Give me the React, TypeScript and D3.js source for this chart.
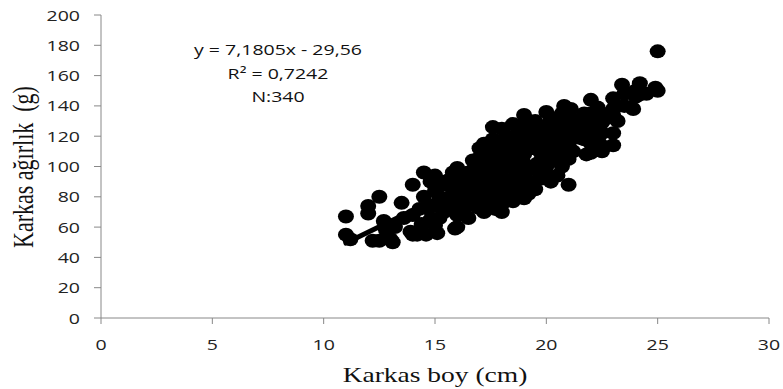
import React, {useEffect, useRef} from "react";
import * as d3 from "d3";

// carcass length (cm) vs carcass weight (g)
const samples: [number, number][] = [
  [11, 67], [11, 55], [11.2, 52], [12, 74], [12, 69], [12.5, 80], [12.2, 51], [12.5, 51],
  [12.7, 64], [13, 52], [13.1, 50], [12.8, 58], [13.5, 76], [13.2, 60], [13.6, 66], [14, 88],
  [14, 68], [14, 55], [13.9, 57], [14.2, 55], [14.3, 72], [14.5, 96], [14.6, 55], [14.8, 65],
  [14.5, 80], [14.4, 62], [14.7, 72], [14.8, 90],
  [15, 94], [15.1, 74], [15, 61], [15.1, 56], [15.2, 66], [15, 84], [15.3, 90], [15.5, 78],
  [15.5, 88], [15.6, 91], [15.4, 70], [15.8, 82], [15.9, 59], [16, 60], [16, 68], [16, 99],
  [16, 80], [16, 75], [16, 90], [16.2, 85], [16.3, 94], [16.5, 78], [16.6, 88], [16.7, 104],
  [16.5, 96], [16.9, 73], [16.8, 82], [15.2, 80], [15.7, 74], [15.8, 96], [16.3, 72],
  [16.5, 66], [16.8, 92], [16.8, 100],
  [17, 80], [17, 90], [17, 95], [17, 100], [17, 106], [17, 75], [17, 112], [17.2, 115],
  [17.2, 85], [17.3, 110], [17.5, 78], [17.5, 88], [17.5, 95], [17.5, 102], [17.5, 108],
  [17.6, 126], [17.6, 118], [17.8, 92], [17.8, 84], [18, 70], [18, 75], [18, 80], [18, 86],
  [18, 93], [18, 98], [18, 104], [18, 110], [18, 116], [18, 125], [18.2, 120], [18.3, 100],
  [18.5, 77], [18.5, 85], [18.5, 92], [18.5, 105], [18.5, 112], [18.5, 118], [18.5, 128],
  [18.8, 94], [18.8, 98], [17.2, 70], [17.3, 92], [17.7, 72], [17.7, 100], [17.8, 112],
  [18.2, 82], [18.2, 90], [18.3, 108], [18.7, 80], [18.7, 88], [18.7, 102], [18.7, 110],
  [18.7, 122],
  [19, 79], [19, 88], [19, 95], [19, 102], [19, 108], [19, 115], [19, 122], [19, 134],
  [19, 128], [19.3, 90], [19.3, 112], [19.5, 85], [19.5, 100], [19.5, 118], [19.5, 125],
  [19.5, 130], [19.6, 102], [19.8, 105], [19.8, 92], [20, 95], [20, 108], [20, 115],
  [20, 120], [20, 127], [20, 136], [20, 100], [20.3, 112], [20.5, 94], [20.5, 118],
  [20.5, 125], [20.5, 130], [20.5, 105], [20.8, 140], [20.8, 123], [19.2, 82], [19.2, 98],
  [19.2, 118], [19.7, 96], [19.7, 110], [19.7, 122], [20.2, 90], [20.2, 104], [20.2, 124],
  [20.2, 132], [20.7, 100], [20.7, 112], [20.7, 135],
  [21, 88], [21, 105], [21, 112], [21, 115], [21, 120], [21, 126], [21.1, 138], [21.1, 132],
  [21.4, 130], [21.5, 119], [21.5, 125], [21.8, 108], [21.8, 125], [22, 109], [22, 115],
  [22, 120], [22, 128], [22, 144], [22, 135], [22.3, 139], [22.4, 115], [22.5, 110],
  [22.5, 129], [22.5, 122], [22.5, 135], [23, 114], [23, 122], [23, 134], [23, 145],
  [23, 138], [23.4, 154], [23.5, 140], [23.5, 148], [23.9, 138], [24, 146], [24, 150],
  [24.2, 155], [24.5, 148], [24.9, 152], [25, 176], [25, 150], [21.2, 110], [21.2, 125],
  [21.7, 118], [21.7, 135], [22.2, 125], [22.7, 132], [23.2, 130],
];

const xTicks = [0, 5, 10, 15, 20, 25, 30];
const yTicks = [0, 20, 40, 60, 80, 100, 120, 140, 160, 180, 200];
const slope = 7.1805;
const intercept = -29.56;
const notes = ["y = 7,1805x - 29,56", "R² = 0,7242", "N:340"];

const SX = 1.3; // source picture is stretched horizontally

function createChart(el: SVGSVGElement) {
  const svg = d3.select(el);
  svg.selectAll("*").remove();

  const x = d3.scaleLinear().domain([0, 30]).range([101, 769]);
  const y = d3.scaleLinear().domain([0, 200]).range([318, 15]);
  const axisColor = "#888888";
  const labelColor = "#222";

  // axes
  svg.append("line").attr("x1", x(0)).attr("x2", x(30)).attr("y1", y(0)).attr("y2", y(0))
    .attr("stroke", axisColor);
  svg.append("line").attr("x1", x(0)).attr("x2", x(0)).attr("y1", y(0)).attr("y2", y(200))
    .attr("stroke", axisColor);

  xTicks.forEach((t) => {
    svg.append("line").attr("x1", x(t)).attr("x2", x(t)).attr("y1", y(0)).attr("y2", y(0) + 6)
      .attr("stroke", axisColor);
    svg.append("text")
      .attr("transform", `translate(${x(t)},350) scale(${SX},1)`)
      .attr("text-anchor", "middle")
      .attr("font-family", "Open Sans")
      .attr("font-size", 15)
      .attr("fill", labelColor)
      .text(t);
  });

  yTicks.forEach((t) => {
    svg.append("line").attr("x1", x(0) - 7).attr("x2", x(0)).attr("y1", y(t)).attr("y2", y(t))
      .attr("stroke", axisColor);
    svg.append("text")
      .attr("transform", `translate(80,${y(t) + 5.5}) scale(${SX},1)`)
      .attr("text-anchor", "end")
      .attr("font-family", "Open Sans")
      .attr("font-size", 15)
      .attr("fill", labelColor)
      .text(t);
  });

  // points
  svg.append("g")
    .selectAll("ellipse")
    .data(samples)
    .enter()
    .append("ellipse")
    .attr("cx", (d) => x(d[0]))
    .attr("cy", (d) => y(d[1]))
    .attr("rx", 8)
    .attr("ry", 7)
    .attr("fill", "#000");

  // trend line over the x range of the data
  const [x0, x1] = d3.extent(samples, (d) => d[0]) as [number, number];
  svg.append("line")
    .attr("x1", x(x0)).attr("y1", y(slope * x0 + intercept))
    .attr("x2", x(x1)).attr("y2", y(slope * x1 + intercept))
    .attr("stroke", "#000")
    .attr("stroke-width", 5)
    .attr("stroke-linecap", "round");

  // equation text
  notes.forEach((n, i) => {
    svg.append("text")
      .attr("transform", `translate(278,${55 + i * 23.5}) scale(${SX},1)`)
      .attr("text-anchor", "middle")
      .attr("font-family", "Open Sans")
      .attr("font-size", 15)
      .attr("fill", "#111")
      .text(n);
  });

  // axis titles
  svg.append("text")
    .attr("transform", `translate(435,382) scale(1.25,1)`)
    .attr("text-anchor", "middle")
    .attr("font-family", "Liberation Serif")
    .attr("font-size", 22)
    .attr("fill", "#111")
    .text("Karkas boy (cm)");

  svg.append("text")
    .attr("transform", `translate(33,167) scale(1.35,1) rotate(-90)`)
    .attr("text-anchor", "middle")
    .attr("font-family", "Liberation Serif")
    .attr("font-size", 22)
    .attr("fill", "#111")
    .style("white-space", "pre")
    .text("Karkas ağırlık  (g)");
}

export default function App() {
  const ref = useRef<SVGSVGElement>(null);
  useEffect(() => {
    if (ref.current) createChart(ref.current);
  }, []);

  return (
    <svg
      ref={ref}
      width={783}
      height={389}
      style={{position: "absolute", left: 0, top: 0, background: "#fff"}}
    />
  );
}
